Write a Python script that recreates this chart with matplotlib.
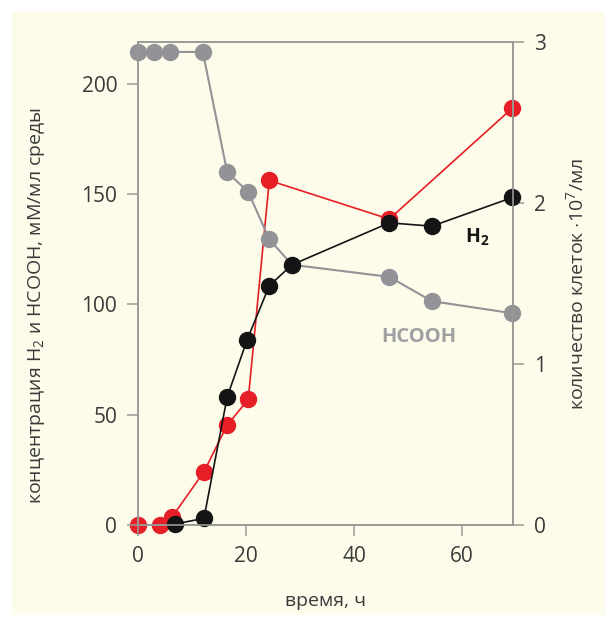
import matplotlib.pyplot as plt
from matplotlib.patches import Rectangle

plt.rcParams['font.family'] = ['Open Sans', 'DejaVu Sans']
plt.rcParams['mathtext.fontset'] = 'custom'
plt.rcParams['mathtext.rm'] = 'Open Sans'
plt.rcParams['mathtext.bf'] = 'Open Sans:bold'

# time, h
t_hcooh = [0, 3, 6, 12, 16.5, 20.4, 24.3, 28.5, 46.5, 54.4, 69.3]
hcooh = [214.5, 214.5, 214.5, 214.5, 160, 151, 129.5, 118, 112.5, 101.5, 96]

t_h2 = [6.9, 12.2, 16.5, 20.2, 24.3, 28.5, 46.5, 54.4, 69.3]
h2 = [0.5, 3, 58, 84, 108.5, 118, 137, 135.5, 148.5]

t_cells = [0, 4, 6.3, 12.2, 16.5, 20.4, 24.3, 46.5, 69.3]
cells = [0, 0, 0.05, 0.33, 0.62, 0.78, 2.14, 1.9, 2.59]

bg = '#fdfbea'
txt = '#3a3a3a'
spine_c = '#9a9a96'

fig = plt.figure(figsize=(6.13, 6.26), dpi=100, facecolor='white')
fig.patches.append(Rectangle((12/613, 11/626), 593/613, 604/626,
                             transform=fig.transFigure, facecolor=bg,
                             edgecolor='none', zorder=-10))

ax = fig.add_axes([138/613, 1-525/626, 375/613, 483/626])
ax2 = ax.twinx()
ax.set_zorder(ax2.get_zorder() + 1)
ax.patch.set_visible(False)
ax2.patch.set_facecolor(bg)

ms = 11.5
ax2.plot(t_cells, cells, '-o', color='#e61e25', lw=1.2, ms=ms, clip_on=False)
ax.plot(t_hcooh, hcooh, '-o', color='#939397', lw=1.5, ms=ms, clip_on=False)
ax.plot(t_h2, h2, '-o', color='#141414', lw=1.2, ms=ms, clip_on=False)

ax.set_xlim(0, 69.4)
ax.set_ylim(0, 219)
ax2.set_ylim(0, 3)
ax.set_xticks([0, 20, 40, 60])
ax.set_yticks([0, 50, 100, 150, 200])
ax2.set_yticks([0, 1, 2, 3])

for a in (ax, ax2):
    for s in a.spines.values():
        s.set_color(spine_c)
        s.set_linewidth(1.2)
    a.tick_params(colors=spine_c, labelcolor=txt, labelsize=15, length=8,
                  width=1.1, pad=7)

ax.text(60.6, 127.9, '$\\mathbf{H_2}$', fontsize=14, color='#141414',
        ha='left', va='baseline')
ax.text(52.0, 83.1, 'HCOOH', fontsize=14.5, fontweight='bold', color='#a0a0a3',
        ha='center', va='baseline')

ax.set_xlabel('время, ч', fontsize=14, color=txt, labelpad=18)
ax.set_ylabel('концентрация H$_2$ и HCOOH, мМ/мл среды', fontsize=14,
              color=txt)
ax.yaxis.set_label_coords(-0.243, 0.455)
ax2.set_ylabel('количество клеток $\\cdot$10$^7$/мл', fontsize=14,
               color=txt, labelpad=14)

fig.savefig('out.png', dpi=100, facecolor='white')
